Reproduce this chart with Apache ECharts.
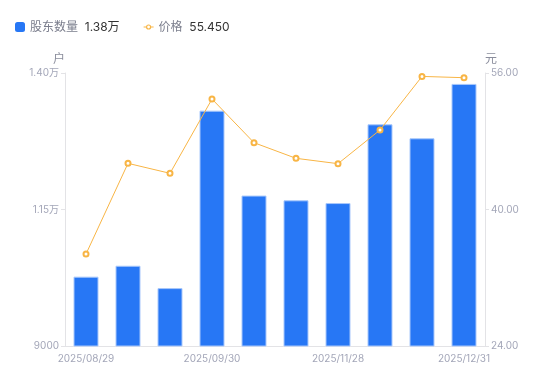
<!DOCTYPE html>
<html><head><meta charset="utf-8">
<script src="https://cdn.jsdelivr.net/npm/echarts@6/dist/echarts.min.js"></script>
<style>html,body{margin:0;padding:0;background:#fff}#c{width:550px;height:381px}</style>
</head><body><div id="c"></div>
<script>
const categories = ['2025/08/29','2025/09/12','2025/09/19','2025/09/30','2025/10/20','2025/10/31','2025/11/28','2025/12/10','2025/12/19','2025/12/31'];
const holders = [10270, 10470, 10060, 13310, 11755, 11668, 11618, 13060, 12804, 13800];
const prices = [34.78, 45.41, 44.24, 52.95, 47.83, 46.0, 45.37, 49.32, 55.6, 55.45];
const leftTicks = {min: 9000, max: 14000, interval: 2500};
const rightTicks = {min: 24, max: 56, interval: 16};

const chart = echarts.init(document.getElementById('c'));
const fmtWan = v => v >= 10000 ? (v/10000).toFixed(2) + '万' : String(v);
const last = {
  '股东数量': (holders[holders.length-1]/10000).toFixed(2) + '万',
  '价格': prices[prices.length-1].toFixed(3)
};
const lineIcon = 'path://M0,0h0.01v0.01h-0.01z M9.99,9.99h0.01v0.01h-0.01z ' +
  'M0,4.5H2.6V5.5H0Z M7.4,4.5H10V5.5H7.4Z ' +
  'M5,2.4A2.6,2.6 0 1,1 4.999,2.4Z M5,3.6A1.4,1.4 0 1,0 5.001,3.6Z';
const axisLabelColor = '#a3a6b8';
chart.setOption({
  animation: false,
  textStyle: {fontFamily: 'Inter, "Noto Sans CJK SC", sans-serif'},
  legend: {
    left: 10, top: 16, itemWidth: 10, itemHeight: 10, itemGap: 24,
    data: [{name: '股东数量', icon: 'roundRect', itemStyle: {borderWidth: 0}}, {name: '价格', icon: lineIcon, itemStyle: {color: '#f8b545', borderWidth: 0}}],
    formatter: n => '{n|' + n + '}  {v|' + last[n] + '}',
    textStyle: {rich: {n: {color: '#7a7d8c', fontSize: 12}, v: {color: '#333', fontSize: 12}}}
  },
  grid: {left: 65, right: 65, top: 73, bottom: 35},
  xAxis: {
    type: 'category', data: categories,
    axisLine: {lineStyle: {color: '#e3e3e6'}},
    axisTick: {show: false},
    axisLabel: {color: axisLabelColor, fontSize: 10, interval: 2, margin: 8}
  },
  yAxis: [{
    type: 'value', name: '户', nameGap: 8,
    nameTextStyle: {color: '#8a8d9c', fontSize: 12, align: 'right'},
    min: leftTicks.min, max: leftTicks.max, interval: leftTicks.interval,
    axisLine: {show: true, lineStyle: {color: '#e3e3e6'}},
    axisTick: {show: true, length: 4, lineStyle: {color: '#e3e3e6'}},
    splitLine: {show: false},
    axisLabel: {color: axisLabelColor, fontSize: 10, margin: 6, formatter: fmtWan}
  }, {
    type: 'value', name: '元', nameGap: 8,
    nameTextStyle: {color: '#8a8d9c', fontSize: 12, align: 'left'},
    min: rightTicks.min, max: rightTicks.max, interval: rightTicks.interval,
    axisLine: {show: true, lineStyle: {color: '#e3e3e6'}},
    axisTick: {show: true, length: 4, lineStyle: {color: '#e3e3e6'}},
    splitLine: {show: false},
    axisLabel: {color: axisLabelColor, fontSize: 10, margin: 6, formatter: v => v.toFixed(2)}
  }],
  series: [{
    name: '股东数量', type: 'bar', data: holders, barWidth: 25,
    itemStyle: {color: '#2777f5', borderColor: '#a9c8fb', borderWidth: 1}
  }, {
    name: '价格', type: 'line', yAxisIndex: 1, data: prices,
    symbol: 'emptyCircle', symbolSize: 5,
    lineStyle: {color: '#f8b545', width: 1},
    itemStyle: {color: '#f8b545', borderWidth: 1.5}
  }]
});
</script></body></html>
